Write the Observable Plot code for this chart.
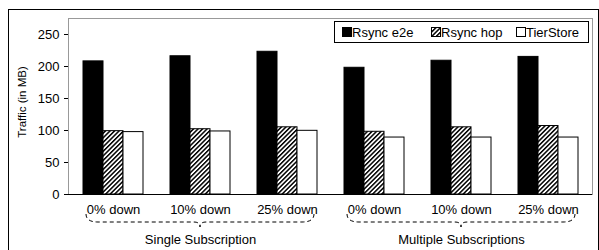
<!DOCTYPE html>
<html><head><meta charset="utf-8">
<script src="https://cdn.jsdelivr.net/npm/d3@7"></script>
<script src="https://cdn.jsdelivr.net/npm/@observablehq/plot@0.6"></script>
<style>
html,body{margin:0;padding:0;background:#fff;overflow:hidden;}
#wrap{position:relative;width:599px;height:250px;font-family:"Liberation Sans",Arial,sans-serif;}
#border{position:absolute;left:8px;top:9px;width:589px;height:300px;border:1px solid #000;pointer-events:none;}
#legend{position:absolute;left:334px;top:21px;width:253px;height:20px;border:1px solid #000;background:#fff;font-size:13px;color:#000;}
.item{position:absolute;top:0;height:20px;display:flex;align-items:center;white-space:nowrap;}
.sw{width:10px;height:10px;margin-right:0px;display:block;}
#ytitle{position:absolute;left:23px;top:102px;transform:translate(-50%,-50%) rotate(-90deg);white-space:nowrap;font-size:11.5px;line-height:1;color:#000;}
#defs{position:absolute;width:0;height:0;overflow:hidden;}
</style></head>
<body>
<svg id="defs" width="0" height="0">
  <defs>
    <pattern id="hatch" patternUnits="userSpaceOnUse" width="3.2" height="3.2" patternTransform="rotate(45)">
      <rect x="0" y="0" width="3.2" height="3.2" fill="#fff"></rect>
      <rect x="0" y="0" width="1.5" height="3.2" fill="#000"></rect>
    </pattern>
  </defs>
</svg>
<div id="wrap">
  <div id="chart"></div>
  <div id="border"></div>
  <div id="ytitle"></div>
  <div id="legend"></div>
</div>
<script>
// ---- data ----
const subscriptions = ["Single Subscription", "Multiple Subscriptions"];
const failures = ["0% down", "10% down", "25% down"];
const series = ["Rsync e2e", "Rsync hop", "TierStore"];
const rsyncE2E = [208, 216, 223, 198, 209, 215];
const rsyncHop = [99, 102, 105, 98, 105, 107];
const tierStore = [97.5, 98.5, 99.5, 89, 89, 89];
const yTicks = [0, 50, 100, 150, 200, 250];
const yTitle = "Traffic (in MB)";

// ---- derived tables ----
const keys = subscriptions.flatMap(s => failures.map(f => s + "|" + f));
const values = [rsyncE2E, rsyncHop, tierStore];
const rows = series.map((name, si) => keys.map((k, i) => ({key: k, series: name, value: values[si][i]})));
const groupLabels = subscriptions.map((s, i) => ({
  key: keys[i * failures.length + Math.floor(failures.length / 2)],
  first: keys[i * failures.length],
  last: keys[i * failures.length + failures.length - 1],
  label: s
}));

const fills = ["#000", "url(#hatch)", "#fff"];
const insets = [[0, 40], [20, 20], [40, 0]];

function braces(index, scales, vals, dims) {
  const x = scales.x;
  const bw = x.bandwidth();
  const yb = dims.height - dims.marginBottom;
  const g = d3.create("svg:g")
    .attr("fill", "none").attr("stroke", "#000").attr("stroke-width", 1)
    .attr("stroke-dasharray", "4,3");
  for (const gl of groupLabels) {
    const x0 = x(gl.first) + 3, x1 = x(gl.last) + bw - 3;
    const xc = (x0 + x1) / 2;
    const yt = yb + 20, ym = yb + 28, yp = yb + 33;
    g.append("path").attr("d",
      `M${x0},${yt} Q${x0},${ym} ${x0 + 12},${ym} L${xc - 6},${ym} Q${xc},${ym} ${xc},${yp} Q${xc},${ym} ${xc + 6},${ym} L${x1 - 12},${ym} Q${x1},${ym} ${x1},${yt}`);
  }
  return g.node();
}

const chart = Plot.plot({
  width: 599,
  height: 250,
  marginLeft: 68,
  marginRight: 7,
  marginTop: 18,
  marginBottom: 56,
  style: {fontFamily: "'Liberation Sans', Arial, sans-serif", fontSize: "13px", color: "#000", background: "transparent"},
  x: {
    domain: keys,
    paddingInner: 0.3125,
    paddingOuter: 0.15625,
    tickSize: 0,
    tickPadding: 10,
    tickFormat: d => d.split("|")[1],
    label: null
  },
  y: {
    domain: [0, 275],
    ticks: yTicks,
    tickSize: 4,
    tickPadding: 5,
    line: true,
    label: null
  },
  marks: [
    Plot.frame({stroke: "#999"}),
    ...rows.map((r, si) => Plot.barY(r, {
      x: "key", y: "value",
      fill: fills[si], stroke: "#000", strokeWidth: 1,
      insetLeft: insets[si][0], insetRight: insets[si][1]
    })),
    Plot.ruleY([0], {stroke: "#000"}),
    Plot.text(groupLabels, {
      x: "key", text: "label", frameAnchor: "bottom", lineAnchor: "top", dy: 40, fontSize: 13
    }),
    braces
  ]
});
document.getElementById("chart").appendChild(chart);
document.getElementById("ytitle").textContent = yTitle;

// ---- legend ----
const legend = d3.select("#legend");
const lefts = [7, 96, 181];
series.forEach((name, i) => {
  const item = legend.append("div").attr("class", "item").style("left", lefts[i] + "px");
  const sw = item.append("svg").attr("class", "sw").attr("width", 10).attr("height", 10);
  sw.append("rect").attr("x", 0.5).attr("y", 0.5).attr("width", 9).attr("height", 9)
    .attr("fill", fills[i]).attr("stroke", "#000");
  item.append("span").text(name);
});
</script>
</body></html>
